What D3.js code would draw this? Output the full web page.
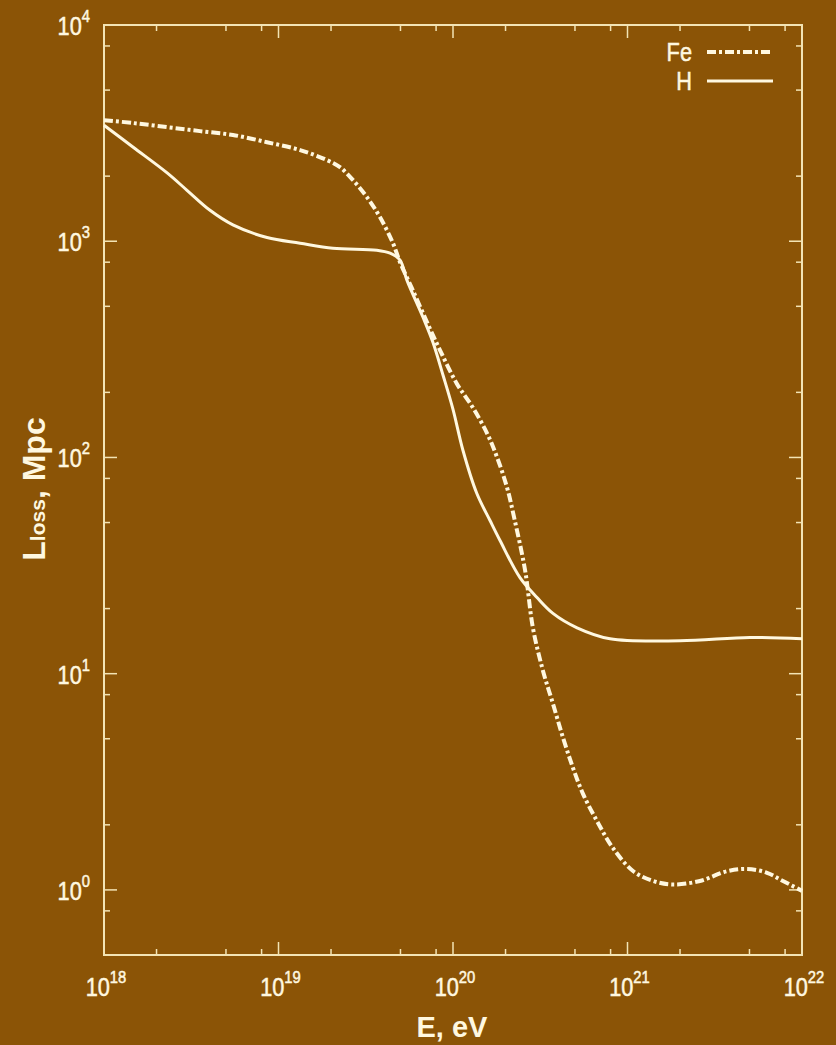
<!DOCTYPE html>
<html>
<head>
<meta charset="utf-8">
<script src="https://cdn.jsdelivr.net/npm/d3@7"></script>
<style>
  html, body { margin: 0; padding: 0; background: #8b5406; }
  svg { display: block; }
  text { font-family: "Liberation Sans", Arial, sans-serif; fill: #fff8e0; }
</style>
</head>
<body>
<svg id="chart" width="836" height="1045"></svg>
<script>
// Energy-loss length vs. energy for iron nuclei and protons
const energyH = [1e18, 1.47e18, 2.30e18, 2.99e18, 4.05e18, 5.48e18, 8.59e18, 1.33e19, 2.05e19, 3.66e19,
  4.36e19, 4.97e19, 5.45e19, 6.73e19, 7.68e19, 8.77e19, 1.00e20, 1.14e20, 1.37e20, 1.63e20,
  1.86e20, 2.42e20, 3.03e20, 3.74e20, 5.14e20, 7.94e20, 2.00e21, 5.03e21, 1e22];
const lossH = [3440, 2720, 2070, 1720, 1390, 1190, 1040, 979, 928, 909,
  880, 817, 659, 445, 340, 240, 167, 108, 68.1, 51.1,
  41.3, 27.8, 22.5, 19.0, 16.3, 14.5, 14.2, 14.7, 14.5];

const energyFe = [1e18, 1.47e18, 2.30e18, 3.55e18, 5.48e18, 8.59e18, 1.33e19, 1.90e19, 2.25e19, 2.67e19,
  3.21e19, 3.82e19, 4.53e19, 4.97e19, 5.82e19, 7.10e19, 8.43e19, 1.05e20, 1.30e20, 1.57e20,
  1.79e20, 2.04e20, 2.26e20, 2.59e20, 2.87e20, 3.28e20, 3.74e20, 4.27e20, 4.87e20, 5.56e20,
  6.69e20, 8.26e20, 1.08e21, 1.40e21, 1.82e21, 2.60e21, 3.72e21, 4.84e21, 6.30e21, 7.78e21, 1e22];
const lossFe = [3630, 3520, 3370, 3230, 3100, 2870, 2640, 2370, 2200, 1920,
  1600, 1290, 979, 800, 605, 422, 313, 220, 170, 129,
  100, 72.6, 51.1, 30.0, 16.3, 10.3, 7.26, 5.06, 3.67, 2.78,
  2.08, 1.56, 1.22, 1.10, 1.06, 1.10, 1.22, 1.25, 1.20, 1.10, 0.99];

const xTickExps = [18, 19, 20, 21, 22];
const yTickExps = [0, 1, 2, 3, 4];
const minorMantissas = [2, 5, 8];
const seriesNames = ["Fe", "H"];

const svg = d3.select("#chart");
const plotLeft = 104, plotRight = 802, plotTop = 25, plotBottom = 955;
const frameColor = "#f3e4b4";
const lineColor = "#fff8e0";
const narrow = 0.87; // horizontal squeeze for the condensed label face

const x = d3.scaleLog().domain([1e18, 1e22]).range([plotLeft, plotRight]);
const y = d3.scaleLog().domain([0.5, 1e4]).range([plotBottom, plotTop]);

// minor tick values per decade
const xMinor = [];
for (let e = 18; e < 22; e++) minorMantissas.forEach(m => xMinor.push(m * Math.pow(10, e)));
const yMinor = [];
for (let e = -1; e < 4; e++) minorMantissas.forEach(m => {
  const v = m * Math.pow(10, e);
  if (v > 0.5 && v < 1e4) yMinor.push(v);
});
const xMajor = xTickExps.map(e => Math.pow(10, e));
const yMajor = yTickExps.map(e => Math.pow(10, e));

// inward ticks on all four sides
const ticks = svg.append("g").attr("stroke", frameColor).attr("stroke-width", 1.5);
[[xMajor, 13], [xMinor, 6]].forEach(([vals, len]) => {
  vals.forEach(v => {
    ticks.append("line").attr("x1", x(v)).attr("x2", x(v)).attr("y1", plotBottom).attr("y2", plotBottom - len);
    ticks.append("line").attr("x1", x(v)).attr("x2", x(v)).attr("y1", plotTop).attr("y2", plotTop + len);
  });
});
[[yMajor, 13], [yMinor, 6]].forEach(([vals, len]) => {
  vals.forEach(v => {
    ticks.append("line").attr("y1", y(v)).attr("y2", y(v)).attr("x1", plotLeft).attr("x2", plotLeft + len);
    ticks.append("line").attr("y1", y(v)).attr("y2", y(v)).attr("x1", plotRight).attr("x2", plotRight - len);
  });
});

svg.append("rect")
  .attr("x", plotLeft).attr("y", plotTop)
  .attr("width", plotRight - plotLeft).attr("height", plotBottom - plotTop)
  .attr("fill", "none").attr("stroke", frameColor).attr("stroke-width", 2);

// condensed text placed at (px, py)
function label(px, py, anchor, size) {
  return svg.append("text")
    .attr("transform", `translate(${px},${py}) scale(${narrow},1)`)
    .attr("text-anchor", anchor).attr("font-size", size)
    .attr("stroke", lineColor).attr("stroke-width", 0.5);
}

// tick labels as powers of ten
xTickExps.forEach(e => {
  const t = label(x(Math.pow(10, e)) + 2, 996, "middle", 25);
  t.append("tspan").text("10");
  t.append("tspan").attr("dy", -13).attr("font-size", 17).text(e);
});
yTickExps.forEach(e => {
  const t = label(90, y(Math.pow(10, e)) + 10, "end", 25);
  t.append("tspan").text("10");
  t.append("tspan").attr("dy", -13).attr("font-size", 17).text(e);
});

// axis titles
svg.append("text")
  .attr("x", 452).attr("y", 1037)
  .attr("text-anchor", "middle").attr("font-size", 29).attr("font-weight", "bold")
  .text("E, eV");

const yt = svg.append("text")
  .attr("transform", "translate(45,489) rotate(-90)")
  .attr("text-anchor", "middle").attr("font-size", 32).attr("font-weight", "bold");
yt.append("tspan").text("L");
yt.append("tspan").attr("font-size", 21).text("loss");
yt.append("tspan").text(", Mpc");

// curves
const line = d3.line()
  .x(d => x(d[0])).y(d => y(d[1]))
  .curve(d3.curveCatmullRom.alpha(0.5));

const dataFe = energyFe.map((e, i) => [e, lossFe[i]]);
const dataH = energyH.map((e, i) => [e, lossH[i]]);

const plot = svg.append("g");
plot.append("path").datum(dataH).attr("d", line)
  .attr("fill", "none").attr("stroke", lineColor).attr("stroke-width", 3);
plot.append("path").datum(dataFe).attr("d", line)
  .attr("fill", "none").attr("stroke", lineColor).attr("stroke-width", 4)
  .attr("stroke-dasharray", "9,3,3,3");

// legend
const legendRows = [
  { name: seriesNames[0], y: 52, dash: "9,3,3,3", w: 4 },
  { name: seriesNames[1], y: 81, dash: null, w: 3 }
];
legendRows.forEach(r => {
  label(692, r.y + 9, "end", 25).text(r.name);
  svg.append("line").attr("x1", 707).attr("x2", 773).attr("y1", r.y).attr("y2", r.y)
    .attr("stroke", lineColor).attr("stroke-width", r.w)
    .attr("stroke-dasharray", r.dash);
});
</script>
</body>
</html>
